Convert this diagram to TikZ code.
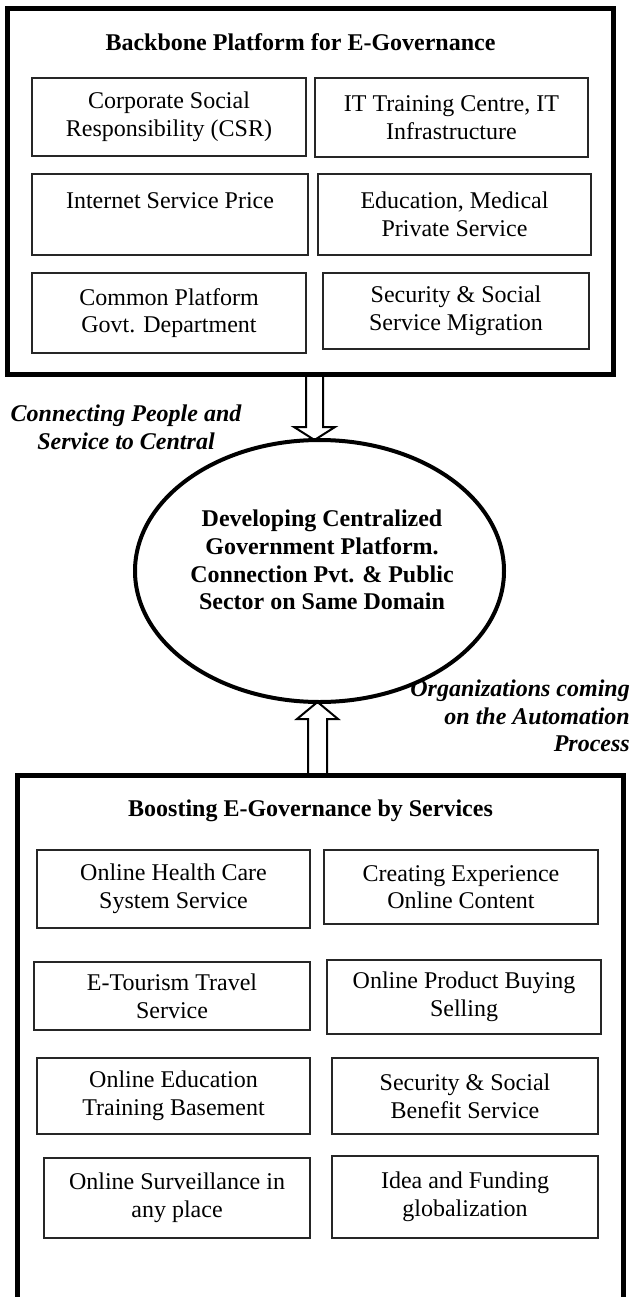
\documentclass[tikz,border=0pt]{standalone}
\usepackage{fontspec}
\setmainfont{Liberation Serif}
\usetikzlibrary{shapes.geometric,calc,fit}
\begin{document}
\begin{tikzpicture}[x=1pt,y=-1pt,
  txt/.style={font=\fontsize{24}{27.6}\selectfont},
  panel/.style={draw, line width=5pt, inner sep=0pt},
  itembox/.style 2 args={txt, draw=black!85, line width=1.1pt, inner sep=0pt, align=center,
    minimum width=#1, minimum height=#2},
  headline/.style={font=\fontsize{24}{27.6}\selectfont\bfseries, inner sep=0pt, anchor=base},
  hubshape/.style={ellipse, draw, line width=4pt, minimum width=369pt, minimum height=262pt, inner sep=0pt},
  hubtxt/.style={align=center, font=\fontsize{24}{27.6}\selectfont\bfseries, inner sep=0pt},
  flowtag/.style={font=\fontsize{24}{27.6}\selectfont\bfseries\itshape, inner sep=0pt},
  blockarrow/.style={draw, line width=2pt, line join=miter}
]
\useasboundingbox (0,0) rectangle (631,1297);
\fill[white] (0,0) rectangle (631,1297);
\clip (0,0) rectangle (631,1297);

% ---------- upper panel ----------
\node[panel, fit={(7.5,8.5) (613.5,374)}] (backbone) {};
\node[headline] (backboneTitle) at (300.5,51) {Backbone Platform for E-Governance};

\node[itembox={274pt}{78pt}] (csr) at (169,117) {Corporate Social\\Responsibility (CSR)};
\node[itembox={273pt}{79pt}] (itc) at (451.5,117.5) {IT Training Centre, IT\\Infrastructure};
\node[itembox={276pt}{81pt}] (isp) at (170,214.5) {Internet Service Price\\\mbox{}};
\node[itembox={273pt}{81pt}] (edu) at (454.5,214.5) {Education, Medical\\Private Service};
\node[itembox={274pt}{80pt}] (cpg) at (169,313) {Common Platform\\Govt. Department};
\node[itembox={266pt}{76pt}] (ssm) at (456,311) {Security \& Social\\Service Migration};

% ---------- central ellipse ----------
\node[hubshape] (hub) at (319.5,571) {};
\node[hubtxt] (hubText) at (322,560) {Developing Centralized\\Government Platform.\\Connection Pvt. \& Public\\Sector on Same Domain};

\node[flowtag, align=center] (tagUp) at (126,427) {Connecting People and\\Service to Central};
\node[flowtag, align=right, anchor=east] (tagDown) at (630,716) {Organizations coming\\on the Automation\\Process};

% ---------- lower panel (open at the bottom) ----------
\draw[line width=5pt] (17,1320) -- (17,775) -- (623,775) -- (623,1320);
\node[headline] (boostTitle) at (310.5,816) {Boosting E-Governance by Services};

\node[itembox={273pt}{78pt}] (health) at (173.5,889) {Online Health Care\\System Service};
\node[itembox={274pt}{74pt}] (content) at (461,887) {Creating Experience\\Online Content};
\node[itembox={276pt}{68pt}] (tour) at (172,996) {E-Tourism Travel\\Service};
\node[itembox={274pt}{74pt}] (shop) at (464,997) {Online Product Buying\\Selling};
\node[itembox={273pt}{76pt}] (learn) at (173.5,1096) {Online Education\\Training Basement};
\node[itembox={266pt}{76pt}] (benefit) at (465,1096) {Security \& Social\\Benefit Service};
\node[itembox={266pt}{80pt}] (watch) at (177,1198) {Online Surveillance in\\any place};
\node[itembox={266pt}{82pt}] (fund) at (465,1197) {Idea and Funding\\globalization};

% ---------- hollow block arrows ----------
\coordinate (upTail) at (314.5,374);
\coordinate (upTip) at (314.5,440);
\draw[blockarrow] ($(upTail)+(-8.5,0)$) -- ($(upTip)+(-8.5,-13)$) -- ($(upTip)+(-20.5,-13)$)
  -- (upTip) -- ($(upTip)+(20.5,-13)$) -- ($(upTip)+(8.5,-13)$) -- ($(upTail)+(8.5,0)$);

\coordinate (dnTail) at (317.5,775);
\coordinate (dnTip) at (317.5,702);
\draw[blockarrow] ($(dnTail)+(-9.5,0)$) -- ($(dnTip)+(-9.5,17)$) -- ($(dnTip)+(-20.5,17)$)
  -- (dnTip) -- ($(dnTip)+(20.5,17)$) -- ($(dnTip)+(9.5,17)$) -- ($(dnTail)+(9.5,0)$);
\end{tikzpicture}
\end{document}
